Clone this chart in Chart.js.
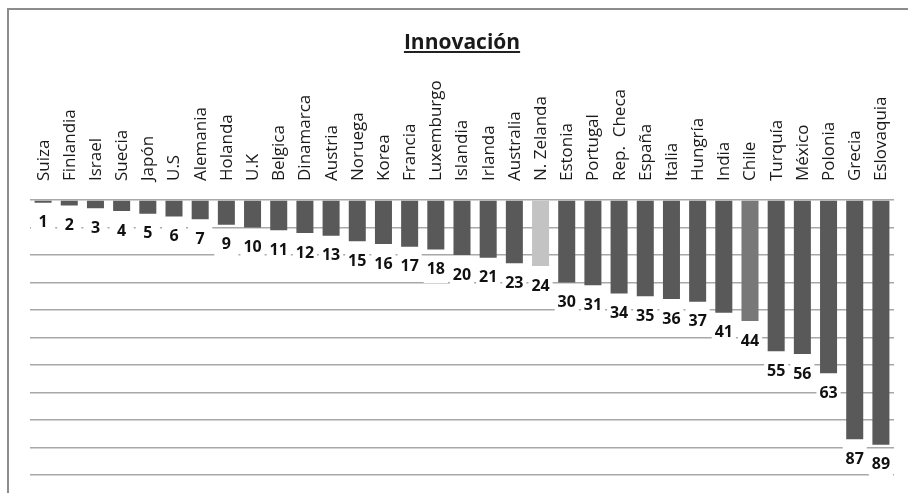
<!DOCTYPE html>
<html>
<head>
<meta charset="utf-8">
<script src="https://cdn.jsdelivr.net/npm/chart.js@4"></script>
<style>
html,body{margin:0;padding:0;background:#fff;overflow:hidden;}
</style>
</head>
<body>
<canvas id="Chart" width="908" height="493"></canvas>
<script>
const countries = ['Suiza','Finlandia','Israel','Suecia','Japón','U.S','Alemania','Holanda','U.K','Belgica',
    'Dinamarca','Austria','Noruega','Korea','Francia','Luxemburgo','Islandia','Irlanda','Australia','N. Zelanda',
    'Estonia','Portugal','Rep.  Checa','España','Italia','Hungría','India','Chile','Turquía','México',
    'Polonia','Grecia','Eslovaquia'];
const ranks = [1,2,3,4,5,6,7,9,10,11,12,13,15,16,17,18,20,21,23,24,30,31,34,35,36,37,41,44,55,56,63,87,89];
const rankTicks = [0,10,20,30,40,50,60,70,80,90,100];

// N. Zelanda y Chile van resaltadas
function barColor(c) {
    const name = countries[c.dataIndex];
    if (name==='N. Zelanda') return '#c3c3c3';
    if (name==='Chile') return '#787878';
    return '#595959';
}

const frame = {
    id:'frame',
    beforeDraw(chart) {
        const c = chart.ctx;
        c.save();
        c.strokeStyle = '#8c8c8c';
        c.lineWidth = 2;
        c.strokeRect(8, 9, chart.width+20, chart.height+20);
        c.restore();
    }
};

const valueLabels = {
    id:'valueLabels',
    afterDatasetsDraw(chart) {
        const c = chart.ctx;
        const step = chart.scales.x.width / countries.length;
        c.save();
        c.font = 'bold 16px "Open Sans"';
        c.textAlign = 'center';
        c.textBaseline = 'middle';
        chart.getDatasetMeta(0).data.forEach((bar, i) => {
            const y = bar.y + 20;
            c.fillStyle = '#fff';
            c.fillRect(bar.x - step/2 + 1, y - 13.5, step - 2, 27);
            c.fillStyle = '#111';
            c.fillText(ranks[i], bar.x, y);
        });
        c.restore();
    }
};

const underline = {
    id:'underline',
    afterDraw(chart) {
        const t = chart.titleBlock;
        const c = chart.ctx;
        c.save();
        c.font = 'bold 21px "Open Sans"';
        const w = c.measureText(t.options.text).width;
        const cx = (t.left + t.right) / 2;
        const y = t.top + t.height/2 + 9.5;
        c.strokeStyle = '#222';
        c.lineWidth = 2;
        c.beginPath();
        c.moveTo(cx - w/2, y);
        c.lineTo(cx + w/2, y);
        c.stroke();
        c.restore();
    }
};

const ctx = document.getElementById('Chart');

new Chart(ctx, {
    type:'bar',
    data: {
        labels: countries,
        datasets: [{
            data: ranks,
            backgroundColor: barColor,
            barPercentage: 0.65,
            categoryPercentage: 1
        }]
    },
    options: {
        responsive: false,
        animation: false,
        devicePixelRatio: 1,
        layout: {
            padding: {top: 30, left: 30, right: 14, bottom: 18}
        },
        plugins: {
            legend: {display: false},
            tooltip: {enabled: false},
            title: {
                display: true,
                text: 'Innovación',
                color: '#1a1a1a',
                font: {family: 'Open Sans', size: 21, weight: 'bold'},
                padding: {top: 0, bottom: 0}
            }
        },
        scales: {
            x: {
                position: 'top',
                grid: {display: false, drawTicks: false},
                border: {display: false},
                ticks: {
                    minRotation: 90,
                    maxRotation: 90,
                    autoSkip: false,
                    padding: 19,
                    labelOffset: 21,
                    color: '#1a1a1a',
                    font: {family: 'Open Sans', size: 17}
                },
                afterFit: s => { s.height = 144.8; }
            },
            y: {
                reverse: true,
                min: rankTicks[0],
                max: rankTicks[rankTicks.length-1],
                afterBuildTicks: s => { s.ticks = rankTicks.map(v => ({value: v})); },
                ticks: {display: false},
                border: {display: false},
                grid: {color: '#a8a8a8', lineWidth: 1.5, drawTicks: false},
                afterFit: s => { s.width = 0; }
            }
        }
    },
    plugins: [frame, valueLabels, underline]
});
</script>
</body>
</html>
